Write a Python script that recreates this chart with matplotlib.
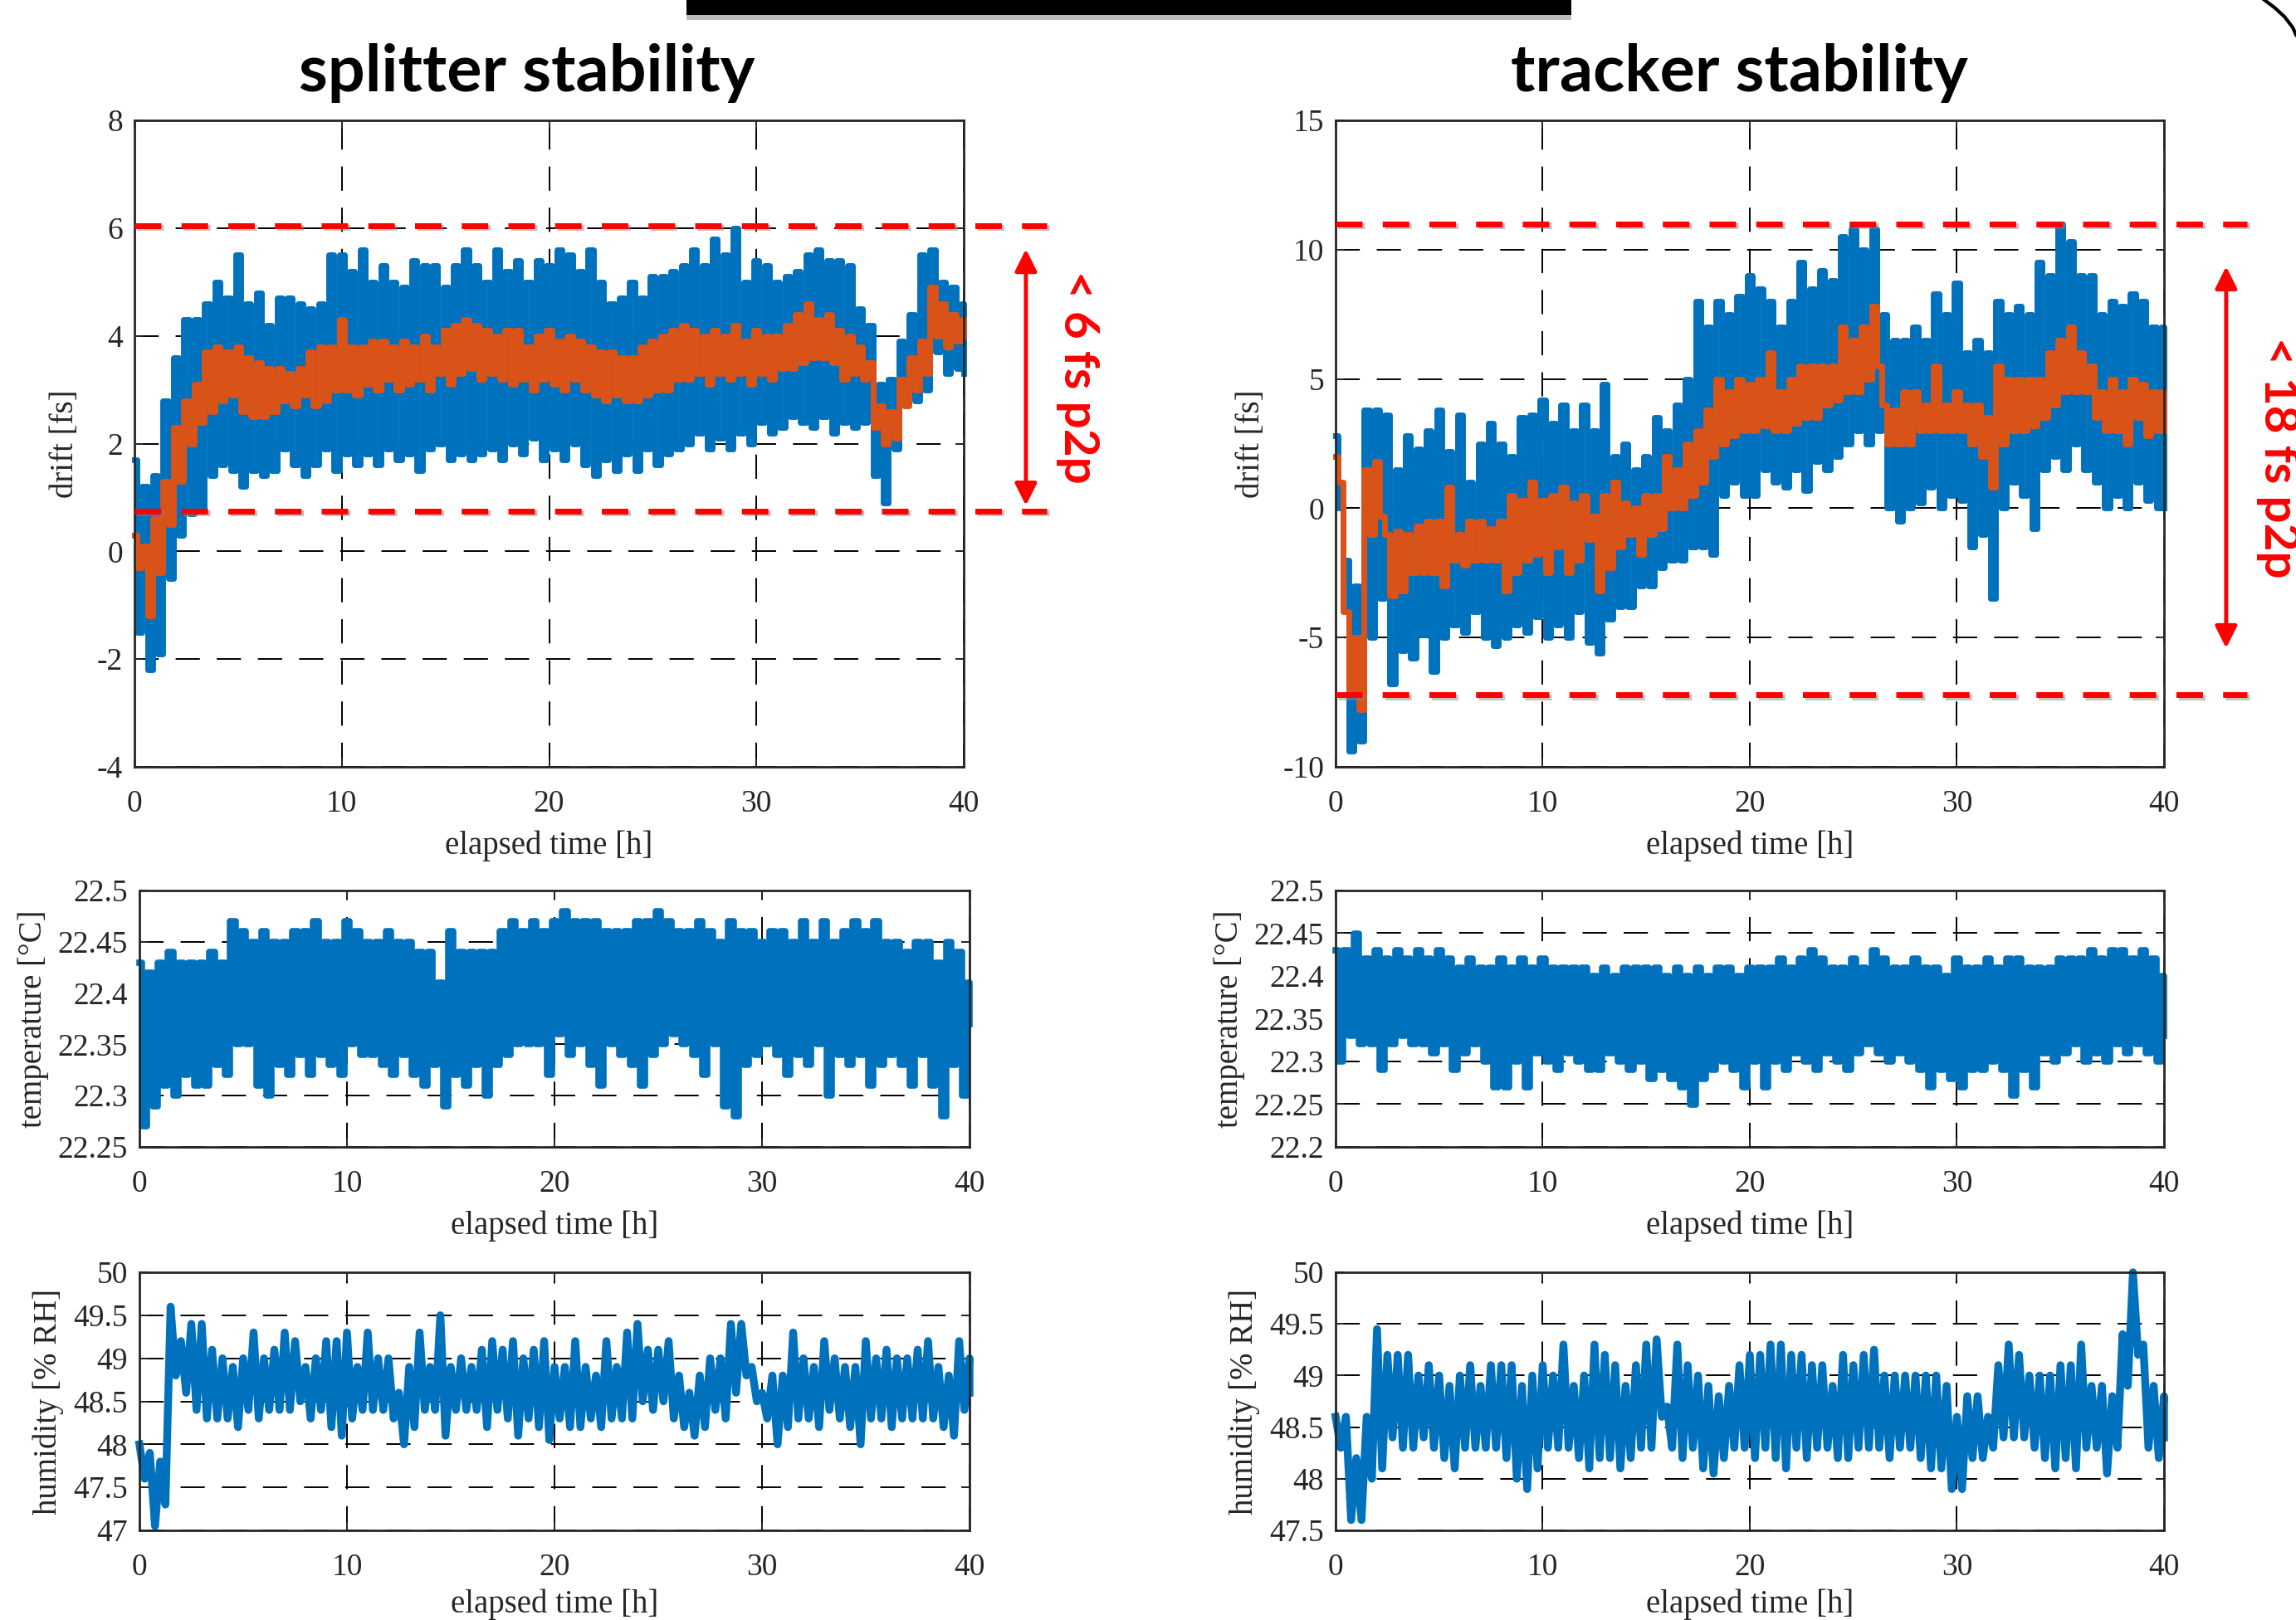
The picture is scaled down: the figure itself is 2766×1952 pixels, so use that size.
import numpy as np
import matplotlib
matplotlib.use('Agg')
import matplotlib.pyplot as plt
import matplotlib.patheffects as pe
from matplotlib.patches import Rectangle
from matplotlib.lines import Line2D
from matplotlib.ticker import FuncFormatter, MultipleLocator

# ----------------------------------------------------------------
# DATA: upper / lower excursions read every 0.5 h, 0 .. 40 h
split_drift_hi = [1.7, 1.2, 1.4, 2.8, 3.6, 4.3, 4.3, 4.6, 5.0, 4.7, 5.5, 4.6, 4.8, 4.2, 4.7, 4.7, 4.6,
                  4.5, 4.6, 5.5, 5.5, 5.2, 5.6, 5.0, 5.3, 5.0, 4.9, 5.4, 5.3, 5.3, 4.9, 5.3, 5.6, 5.3,
                  5.0, 5.6, 5.2, 5.4, 5.0, 5.4, 5.3, 5.6, 5.5, 5.2, 5.6, 5.0, 4.6, 4.7, 5.0, 4.7, 5.1,
                  5.1, 5.2, 5.3, 5.6, 5.3, 5.8, 5.5, 6.0, 5.0, 5.4, 5.3, 5.0, 5.1, 5.2, 5.5, 5.6, 5.4,
                  5.4, 5.3, 4.5, 4.2, 3.1, 3.2, 3.9, 4.4, 5.5, 5.6, 5.0, 4.9, 4.6]
split_drift_lo = [-1.5, -2.2, -1.9, -0.5, 0.3, 0.7, 0.8, 1.4, 1.6, 1.5, 1.2, 1.5, 1.4, 1.5, 1.9, 1.6, 1.4,
                  1.6, 1.9, 1.5, 1.8, 1.6, 1.8, 1.6, 1.9, 1.7, 1.8, 1.5, 1.9, 2.0, 1.7, 1.8, 1.7, 1.8,
                  1.9, 1.7, 2.0, 1.8, 2.1, 1.7, 1.9, 1.7, 2.0, 1.6, 1.4, 1.7, 1.5, 1.8, 1.5, 1.9, 1.6,
                  1.8, 1.9, 2.0, 2.2, 1.9, 2.1, 1.9, 2.2, 2.0, 2.4, 2.2, 2.3, 2.5, 2.4, 2.3, 2.5, 2.2,
                  2.4, 2.3, 2.4, 1.4, 0.9, 1.9, 3.0, 2.8, 3.0, 3.7, 3.3, 3.4, 3.3]
split_avg_hi = [0.3, 0.1, 0.6, 1.3, 2.3, 2.8, 3.1, 3.7, 3.8, 3.7, 3.8, 3.6, 3.5, 3.4, 3.4, 3.3, 3.4,
                3.7, 3.8, 3.8, 4.3, 3.8, 3.8, 3.9, 3.9, 3.8, 3.9, 3.8, 4.0, 3.8, 4.1, 4.2, 4.3, 4.2,
                4.1, 4.0, 4.1, 4.1, 3.8, 4.0, 4.1, 3.9, 4.0, 3.9, 3.8, 3.7, 3.7, 3.6, 3.6, 3.8, 3.9,
                4.0, 4.1, 4.2, 4.1, 4.0, 4.1, 4.0, 4.2, 3.9, 4.1, 4.0, 4.0, 4.2, 4.4, 4.6, 4.3, 4.4,
                4.1, 4.0, 3.8, 3.5, 2.7, 2.6, 3.2, 3.6, 3.9, 4.9, 4.6, 4.4, 4.3]
split_avg_lo = [-0.3, -1.2, -0.4, 0.5, 1.3, 2.0, 2.4, 2.6, 2.8, 2.9, 2.6, 2.5, 2.5, 2.6, 2.8, 2.7, 2.9,
                2.7, 2.8, 3.0, 3.0, 2.9, 3.1, 3.0, 3.2, 3.0, 3.1, 3.2, 3.0, 3.3, 3.1, 3.3, 3.4, 3.2,
                3.3, 3.2, 3.1, 3.2, 3.0, 3.2, 3.1, 3.0, 3.2, 3.0, 2.9, 2.8, 2.9, 2.8, 2.8, 2.9, 3.0,
                3.0, 3.2, 3.2, 3.3, 3.1, 3.3, 3.2, 3.3, 3.1, 3.3, 3.2, 3.4, 3.4, 3.5, 3.6, 3.6, 3.5,
                3.2, 3.3, 3.2, 2.3, 2.0, 2.1, 2.7, 3.0, 3.3, 4.0, 3.8, 3.9, 4.0]

track_drift_hi = [2.8, -2.0, -3.0, 3.8, 3.8, 3.6, 1.5, 2.8, 2.3, 3.0, 3.8, 2.2, 3.6, 1.0, 2.5, 3.3, 2.5,
                  2.0, 3.5, 3.6, 4.2, 3.3, 4.0, 3.0, 4.0, 3.0, 4.8, 2.0, 2.5, 1.5, 2.0, 3.5, 3.0, 4.0,
                  5.0, 8.0, 7.0, 8.0, 7.5, 8.2, 9.0, 8.5, 8.0, 7.0, 8.0, 9.5, 8.5, 9.2, 8.8, 10.5, 10.8,
                  10.0, 10.8, 7.5, 6.5, 6.5, 7.0, 6.5, 8.3, 7.5, 8.7, 6.0, 6.5, 6.0, 8.0, 7.5, 7.8, 7.5,
                  9.5, 9.0, 11.0, 10.3, 9.0, 9.0, 7.5, 8.0, 7.8, 8.3, 8.0, 7.0, 7.0]
track_drift_lo = [0.0, -9.4, -9.0, -5.0, -3.5, -6.8, -5.5, -5.8, -4.9, -6.3, -5.0, -4.5, -4.8, -4.0, -5.0,
                  -5.3, -5.0, -4.5, -4.8, -4.2, -5.0, -4.5, -5.0, -4.0, -5.2, -5.6, -4.3, -3.8, -3.8,
                  -3.0, -3.0, -2.3, -2.0, -2.0, -1.5, -1.5, -1.8, 0.5, 1.0, 0.5, 0.5, 1.5, 1.0, 0.8,
                  1.5, 0.7, 1.8, 1.5, 2.0, 2.5, 3.0, 2.5, 3.0, 0.0, -0.5, 0.0, 0.2, 0.8, 0.0, 0.5, 0.3,
                  -1.5, -1.0, -3.5, 0.0, 1.0, 0.5, -0.8, 1.5, 2.0, 1.5, 2.5, 1.5, 1.0, 0.0, 0.5, 0.0,
                  1.0, 0.3, 0.0, 0.0]
track_avg_hi = [2.0, -4.0, -5.0, 1.5, 1.8, -1.0, -0.9, -1.0, -0.7, -0.5, -0.5, 0.8, -1.0, -0.5, -0.5,
                -0.8, -0.5, 0.5, 0.3, 1.0, 0.3, 0.5, 0.8, 0.2, 0.5, -0.3, 0.5, 1.0, 0.2, 0.0, 0.5, 0.5,
                2.0, 1.5, 2.5, 3.0, 3.8, 5.0, 4.5, 5.0, 4.8, 5.0, 6.0, 4.5, 5.0, 5.5, 5.5, 5.5, 5.5,
                7.0, 6.5, 7.0, 7.8, 4.0, 3.8, 4.5, 4.5, 4.0, 5.5, 4.0, 4.5, 4.0, 4.0, 3.5, 5.5, 5.0,
                5.0, 5.0, 5.0, 6.0, 6.5, 7.0, 6.0, 5.5, 4.5, 5.0, 4.5, 5.0, 4.8, 4.5, 4.5]
track_avg_lo = [1.0, -7.0, -7.8, -1.0, -0.3, -3.4, -3.2, -2.5, -2.5, -2.5, -3.0, -2.0, -2.2, -2.0, -2.0,
                -2.0, -3.2, -2.5, -2.0, -1.8, -2.5, -1.5, -2.5, -2.0, -1.2, -3.2, -2.3, -1.5, -1.0,
                -1.8, -1.0, -0.8, 0.0, 0.0, 0.5, 1.0, 2.0, 2.5, 2.8, 3.0, 3.0, 3.2, 3.0, 3.0, 3.3, 3.5,
                3.5, 4.0, 4.2, 4.5, 4.5, 5.0, 5.5, 2.5, 2.5, 2.5, 3.0, 3.0, 3.0, 3.0, 3.0, 2.5, 2.0,
                0.8, 2.5, 3.0, 3.0, 3.2, 3.5, 4.0, 4.5, 4.5, 4.5, 3.5, 3.0, 3.0, 2.5, 3.5, 2.8, 3.0,
                3.0]

split_temp_hi = [22.43, 22.42, 22.43, 22.44, 22.43, 22.43, 22.43, 22.44, 22.43, 22.47, 22.46, 22.45,
                 22.46, 22.45, 22.45, 22.46, 22.46, 22.47, 22.45, 22.45, 22.47, 22.46, 22.45, 22.45,
                 22.46, 22.45, 22.45, 22.44, 22.44, 22.41, 22.46, 22.44, 22.44, 22.44, 22.44, 22.46,
                 22.47, 22.46, 22.47, 22.46, 22.47, 22.48, 22.47, 22.47, 22.47, 22.46, 22.46, 22.46,
                 22.47, 22.47, 22.48, 22.47, 22.46, 22.46, 22.47, 22.46, 22.45, 22.47, 22.46, 22.46,
                 22.45, 22.46, 22.46, 22.45, 22.47, 22.45, 22.47, 22.45, 22.46, 22.47, 22.46, 22.47,
                 22.45, 22.45, 22.44, 22.45, 22.45, 22.43, 22.45, 22.44, 22.41]
split_temp_lo = [22.27, 22.29, 22.31, 22.30, 22.32, 22.31, 22.31, 22.33, 22.32, 22.35, 22.35, 22.31,
                 22.30, 22.33, 22.32, 22.34, 22.32, 22.34, 22.33, 22.32, 22.35, 22.34, 22.34, 22.33,
                 22.32, 22.34, 22.32, 22.31, 22.33, 22.29, 22.32, 22.31, 22.33, 22.30, 22.33, 22.34,
                 22.35, 22.35, 22.35, 22.32, 22.36, 22.34, 22.35, 22.33, 22.31, 22.35, 22.34, 22.33,
                 22.31, 22.34, 22.35, 22.36, 22.35, 22.34, 22.32, 22.35, 22.29, 22.28, 22.33, 22.34,
                 22.35, 22.34, 22.32, 22.34, 22.33, 22.35, 22.30, 22.34, 22.33, 22.34, 22.31, 22.33,
                 22.34, 22.33, 22.31, 22.34, 22.31, 22.28, 22.33, 22.30, 22.37]
track_temp_hi = [22.43, 22.43, 22.45, 22.42, 22.43, 22.42, 22.43, 22.42, 22.43, 22.42, 22.43, 22.42,
                 22.41, 22.42, 22.41, 22.41, 22.42, 22.41, 22.42, 22.41, 22.42, 22.41, 22.41, 22.41,
                 22.41, 22.40, 22.41, 22.40, 22.41, 22.41, 22.41, 22.41, 22.40, 22.41, 22.40, 22.41,
                 22.40, 22.41, 22.41, 22.40, 22.41, 22.41, 22.41, 22.42, 22.41, 22.42, 22.43, 22.42,
                 22.41, 22.41, 22.42, 22.41, 22.43, 22.42, 22.41, 22.41, 22.42, 22.41, 22.41, 22.40,
                 22.42, 22.41, 22.41, 22.42, 22.41, 22.42, 22.42, 22.41, 22.41, 22.41, 22.42, 22.42,
                 22.42, 22.43, 22.42, 22.43, 22.43, 22.42, 22.43, 22.42, 22.40]
track_temp_lo = [22.30, 22.33, 22.32, 22.32, 22.29, 22.32, 22.33, 22.32, 22.32, 22.31, 22.32, 22.29,
                 22.31, 22.32, 22.30, 22.27, 22.27, 22.30, 22.27, 22.31, 22.30, 22.29, 22.31, 22.30,
                 22.29, 22.29, 22.31, 22.30, 22.29, 22.30, 22.28, 22.29, 22.28, 22.27, 22.25, 22.28,
                 22.29, 22.30, 22.29, 22.27, 22.30, 22.27, 22.30, 22.29, 22.31, 22.30, 22.29, 22.31,
                 22.30, 22.29, 22.31, 22.32, 22.31, 22.30, 22.31, 22.30, 22.29, 22.27, 22.29, 22.28,
                 22.27, 22.29, 22.29, 22.30, 22.29, 22.26, 22.29, 22.27, 22.31, 22.30, 22.31, 22.32,
                 22.30, 22.31, 22.30, 22.32, 22.31, 22.32, 22.31, 22.30, 22.33]

split_hum_hi = [48.0, 47.9, 47.8, 49.6, 49.2, 49.4, 49.4, 49.1, 49.0, 48.9, 49.0, 49.3, 49.0, 49.1,
                49.3, 49.2, 48.9, 49.0, 49.2, 49.2, 49.3, 48.9, 49.3, 49.0, 49.0, 48.6, 48.9, 49.3,
                48.9, 49.5, 48.9, 49.0, 48.9, 49.1, 49.2, 49.1, 49.2, 49.0, 49.1, 49.2, 48.9, 48.9,
                49.2, 48.9, 48.8, 49.2, 48.9, 49.3, 49.4, 49.1, 49.1, 49.2, 48.8, 48.6, 48.8, 49.0,
                49.0, 49.4, 49.4, 48.9, 48.6, 48.8, 48.8, 49.3, 49.0, 48.9, 49.2, 49.0, 48.9, 48.9,
                49.2, 49.0, 49.1, 49.0, 49.0, 49.1, 49.2, 48.9, 48.8, 49.2, 49.0]
split_hum_lo = [47.6, 47.05, 47.3, 48.8, 48.6, 48.4, 48.3, 48.3, 48.3, 48.2, 48.4, 48.3, 48.4, 48.4,
                48.4, 48.5, 48.3, 48.4, 48.2, 48.1, 48.3, 48.4, 48.4, 48.4, 48.3, 48.0, 48.2, 48.4,
                48.4, 48.1, 48.4, 48.4, 48.4, 48.2, 48.4, 48.3, 48.1, 48.3, 48.2, 48.05, 48.3, 48.2,
                48.2, 48.3, 48.2, 48.3, 48.3, 48.3, 48.5, 48.4, 48.5, 48.3, 48.2, 48.1, 48.2, 48.4,
                48.3, 48.6, 48.8, 48.5, 48.3, 48.0, 48.2, 48.3, 48.3, 48.2, 48.4, 48.3, 48.2, 48.0,
                48.3, 48.3, 48.2, 48.3, 48.3, 48.3, 48.3, 48.2, 48.1, 48.4, 48.6]
track_hum_hi = [48.6, 48.6, 48.2, 48.6, 49.45, 49.2, 49.2, 49.2, 49.0, 49.1, 49.0, 48.9, 49.0, 49.1,
                48.9, 49.1, 49.1, 49.1, 48.9, 49.0, 49.1, 49.0, 49.3, 48.9, 49.0, 49.3, 49.2, 49.1,
                48.9, 49.1, 49.3, 49.35, 48.7, 49.3, 49.1, 49.0, 48.9, 48.8, 48.9, 49.1, 49.2, 49.2,
                49.3, 49.3, 49.2, 49.2, 49.1, 49.1, 48.9, 49.2, 49.1, 49.2, 49.25, 49.0, 49.0, 49.0,
                49.0, 49.0, 49.0, 48.9, 48.6, 48.8, 48.8, 48.6, 49.1, 49.3, 49.2, 49.0, 49.0, 49.0,
                49.1, 49.1, 49.3, 48.9, 48.9, 48.8, 49.4, 50.0, 49.3, 48.9, 48.8]
track_hum_lo = [48.3, 47.6, 47.6, 48.0, 48.1, 48.4, 48.3, 48.3, 48.4, 48.3, 48.2, 48.1, 48.3, 48.3,
                48.3, 48.3, 48.2, 48.0, 47.9, 48.1, 48.3, 48.3, 48.3, 48.2, 48.1, 48.2, 48.2, 48.1,
                48.2, 48.3, 48.3, 48.6, 48.3, 48.2, 48.3, 48.1, 48.05, 48.2, 48.3, 48.3, 48.2, 48.3,
                48.2, 48.1, 48.3, 48.2, 48.3, 48.3, 48.2, 48.2, 48.3, 48.3, 48.3, 48.2, 48.3, 48.3,
                48.2, 48.1, 48.1, 47.9, 47.9, 48.2, 48.2, 48.3, 48.4, 48.4, 48.4, 48.3, 48.2, 48.1,
                48.2, 48.1, 48.3, 48.3, 48.05, 48.3, 48.9, 49.2, 48.3, 48.2, 48.4]

titles = ['splitter stability', 'tracker stability']
p2p_labels = ['< 6 fs p2p', '< 18 fs p2p']
p2p_bounds = [(6.05, 0.75), (11.0, -7.2)]
p2p_arrow = [(5.61, 0.85), (9.35, -5.41)]
drift_ylim = [(-4, 8), (-10, 15)]
temp_ylim = [(22.25, 22.5), (22.2, 22.5)]
hum_ylim = [(47, 50), (47.5, 50)]

# ----------------------------------------------------------------
W, H = 2766, 1952
BLUE = '#0072BD'
ORANGE = '#D95319'
plt.rcParams['font.family'] = ['Liberation Serif', 'DejaVu Serif']


def zigzag(hi, lo):
    # alternate upper and lower excursions in time
    t = np.arange(len(hi)) * 0.5
    x = np.empty(2 * len(hi))
    y = np.empty(2 * len(hi))
    x[0::2] = t
    x[1::2] = np.minimum(t + 0.25, 40.0)
    y[0::2] = hi
    y[1::2] = lo
    return x, y


def make_axes(px_left, px_top, px_right, px_bottom, xlabelpad=10):
    ax = fig.add_axes([px_left / W, 1 - px_bottom / H, (px_right - px_left) / W, (px_bottom - px_top) / H])
    ax.set_axisbelow(True)
    ax.grid(True, color='black', lw=1.4, ls=(0, (15, 10.5)))
    ax.tick_params(direction='in', length=7, width=1.4, top=True, right=True,
                   labelsize=27, colors='#262626')
    ax.tick_params(axis='x', pad=20)
    ax.tick_params(axis='y', pad=10)
    for s in ax.spines.values():
        s.set_linewidth(2.0)
        s.set_color('#262626')
    ax.set_xlim(0, 40)
    ax.xaxis.set_major_locator(MultipleLocator(10))
    ax.yaxis.set_major_formatter(FuncFormatter(lambda v, p: '%g' % round(v, 4)))
    ax.set_xlabel('elapsed time [h]', fontsize=28, labelpad=xlabelpad, color='#262626')
    return ax


fig = plt.figure(figsize=(W / 100, H / 100), dpi=100)
fig.patch.set_facecolor('white')

cols = [(162, 168, 1161, 1168), (1609, 1609, 2607, 2607)]
drift_data = [(split_drift_hi, split_drift_lo, split_avg_hi, split_avg_lo),
              (track_drift_hi, track_drift_lo, track_avg_hi, track_avg_lo)]
temp_data = [(split_temp_hi, split_temp_lo), (track_temp_hi, track_temp_lo)]
hum_data = [(split_hum_hi, split_hum_lo), (track_hum_hi, track_hum_lo)]
red_shadow = [pe.SimpleLineShadow(offset=(2, -2), shadow_color='#888888', alpha=0.5), pe.Normal()]

for k in range(2):
    l0, l1, r0, r1 = cols[k]

    # DRIFT
    ax = make_axes(l0, 145, r0, 924)
    bh, bl, oh, ol = drift_data[k]
    x, y = zigzag(bh, bl)
    ax.plot(x, y, color=BLUE, lw=5, drawstyle='steps-mid', clip_on=False)
    x, y = zigzag(oh, ol)
    ax.plot(x, y, color=ORANGE, lw=5, drawstyle='steps-mid', clip_on=False)
    ax.set_ylim(*drift_ylim[k])
    ax.yaxis.set_major_locator(MultipleLocator(2 if k == 0 else 5))
    ax.set_ylabel('drift [fs]', fontsize=28, labelpad=14, color='#262626')

    # p2p band and annotation
    top, bot = p2p_bounds[k]
    for yv in (top, bot):
        ax.plot([0, 44.0], [yv, yv], color='red', lw=5, ls=(0, (4.6, 3.5)),
                dash_capstyle='butt', clip_on=False, zorder=5, path_effects=red_shadow)
    a_top, a_bot = p2p_arrow[k]
    ax.annotate('', xy=(43.0, a_top), xytext=(43.0, a_bot),
                arrowprops=dict(arrowstyle='<|-|>', color='red', lw=3.5, mutation_scale=40,
                                shrinkA=0, shrinkB=0),
                annotation_clip=False)
    ax.text(45.5, (a_top + a_bot) / 2, p2p_labels[k], rotation=-90, color='red',
            fontsize=42, fontweight='bold', family=['Lato', 'DejaVu Sans'],
            ha='center', va='center', clip_on=False)

    # TEMPERATURE (quantised sensor -> step drawing)
    ax = make_axes(l1, 1073, r1, 1382)
    x, y = zigzag(*temp_data[k])
    ax.plot(x, y, color=BLUE, lw=5.5, drawstyle='steps-mid', clip_on=False)
    ax.set_ylim(*temp_ylim[k])
    ax.yaxis.set_major_locator(MultipleLocator(0.05))
    ax.set_ylabel('temperature [°C]', fontsize=28, labelpad=8, color='#262626')

    # HUMIDITY
    ax = make_axes(l1, 1533, r1, 1844, xlabelpad=6)
    x, y = zigzag(*hum_data[k])
    ax.plot(x, y, color=BLUE, lw=6.8, solid_joinstyle='round', clip_on=False)
    ax.set_ylim(*hum_ylim[k])
    ax.yaxis.set_major_locator(MultipleLocator(0.5))
    ax.set_ylabel('humidity [% RH]', fontsize=28, labelpad=8, color='#262626')

# titles
fig.text(635 / W, 1 - 88 / H, titles[0], fontsize=57, fontweight='bold',
         family=['Lato', 'DejaVu Sans'], ha='center', va='center')
fig.text(2095 / W, 1 - 88 / H, titles[1], fontsize=57, fontweight='bold',
         family=['Lato', 'DejaVu Sans'], ha='center', va='center')

# slide decorations: bar at top and frame arc at the corner
fig.add_artist(Rectangle((827 / W, 1 - 24 / H), 1066 / W, 6 / H, color='#bbbbbb', lw=0))
fig.add_artist(Rectangle((827 / W, 1 - 18 / H), 1066 / W, 18 / H, color='black', lw=0))
arc_x = np.array([2728, 2740, 2752, 2762, 2766]) / W
arc_y = 1 - np.array([0, 9, 20, 33, 42]) / H
fig.add_artist(Line2D(arc_x, arc_y, color='black', lw=3, transform=fig.transFigure))

fig.savefig('out.png', dpi=100, facecolor='white')
